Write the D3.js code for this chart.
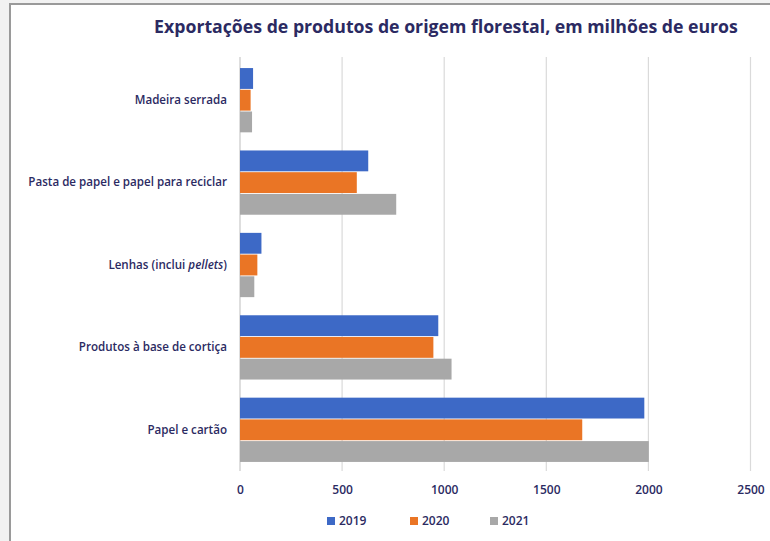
<!DOCTYPE html>
<html>
<head>
<meta charset="utf-8">
<script src="https://cdn.jsdelivr.net/npm/d3@7"></script>
<style>
  body { margin: 0; background: #f2f2f2; }
  svg { display: block; font-family: 'Open Sans', sans-serif; }
</style>
</head>
<body>
<div id="chart"></div>
<script>
let categories = ['Madeira serrada', 'Pasta de papel e papel para reciclar', 'Lenhas (inclui pellets)', 'Produtos à base de cortiça', 'Papel e cartão'];
let years = ['2019', '2020', '2021'];
let values2019 = [64, 628, 105, 971, 1980];
let values2020 = [52, 572, 85, 947, 1676];
let values2021 = [59, 765, 70, 1036, 2002];
let xTicks = [0, 500, 1000, 1500, 2000, 2500];
let colors = ['#3d69c6', '#ea7525', '#a8a8a8'];

let W = 770, H = 541;
let navy = '#2b2a62';
let series = [values2019, values2020, values2021];

let svg = d3.select('#chart').append('svg')
            .attr('width', W)
            .attr('height', H);

// white panel with grey frame
svg.append('rect')
   .attr('x', 10).attr('y', 4)
   .attr('width', W).attr('height', H)
   .attr('fill', '#fff')
   .attr('stroke', '#9a9a9a')
   .attr('stroke-width', 2);

svg.append('text')
   .attr('x', 446).attr('y', 33)
   .attr('text-anchor', 'middle')
   .style('font-size', '17.7px')
   .style('font-weight', 'bold')
   .style('fill', navy)
   .text('Exportações de produtos de origem florestal, em milhões de euros');

let xScale = d3.scaleLinear().domain([0, 2500]).range([240, 750.5]);
let yScale = d3.scaleBand().domain(categories).range([59, 471]).paddingInner(0.22).paddingOuter(0.11);
let inner = d3.scaleBand().domain(years).range([0, yScale.bandwidth()]).paddingInner(0.04);

// gridlines
svg.append('g')
   .selectAll('line')
   .data(xTicks)
   .enter()
   .append('line')
   .attr('x1', d => xScale(d)).attr('x2', d => xScale(d))
   .attr('y1', 57).attr('y2', 471)
   .attr('stroke', (d, i) => i === 0 ? '#c8c8c8' : '#dadada')
   .attr('stroke-width', 1.2);

// bars
years.forEach((yr, s) => {
  svg.append('g')
     .selectAll('rect')
     .data(series[s])
     .enter()
     .append('rect')
     .attr('x', xScale(0))
     .attr('y', (v, i) => yScale(categories[i]) + inner(yr))
     .attr('width', v => xScale(v) - xScale(0))
     .attr('height', inner.bandwidth())
     .attr('fill', colors[s]);
});

// x axis labels
let xAxis = svg.append('g')
               .attr('transform', 'translate(0, 485)')
               .call(d3.axisBottom(xScale).tickValues(xTicks).tickFormat(d3.format('d')).tickSize(0).tickPadding(0));
xAxis.select('.domain').remove();
xAxis.selectAll('text')
     .attr('dy', '0.71em')
     .style('font-family', "'Open Sans', sans-serif")
     .style('font-size', '12px')
     .style('font-weight', '600')
     .style('fill', navy);

// category labels
let yAxis = svg.append('g')
               .attr('transform', 'translate(227, 0)')
               .call(d3.axisLeft(yScale).tickSize(0).tickPadding(0));
yAxis.select('.domain').remove();
yAxis.selectAll('text')
     .style('font-family', "'Open Sans', sans-serif")
     .style('font-size', '11.6px')
     .style('font-weight', '600')
     .style('fill', navy)
     .each(function(d) {
       if (d.indexOf('pellets') >= 0) {
         let t = d3.select(this).text('');
         t.append('tspan').text('Lenhas (inclui ');
         t.append('tspan').style('font-style', 'italic').text('pellets');
         t.append('tspan').text(')');
       }
     });

// legend
let legendX = [327, 410, 490];
let legend = svg.append('g')
                .selectAll('g')
                .data(years)
                .enter()
                .append('g')
                .attr('transform', (d, i) => `translate(${legendX[i]}, 521)`);
legend.append('rect')
      .attr('x', 0).attr('y', -4)
      .attr('width', 8).attr('height', 8)
      .attr('fill', (d, i) => colors[i]);
legend.append('text')
      .attr('x', 12).attr('y', 0)
      .attr('dy', '0.35em')
      .style('font-size', '12px')
      .style('font-weight', '600')
      .style('fill', navy)
      .text(d => d);
</script>
</body>
</html>
